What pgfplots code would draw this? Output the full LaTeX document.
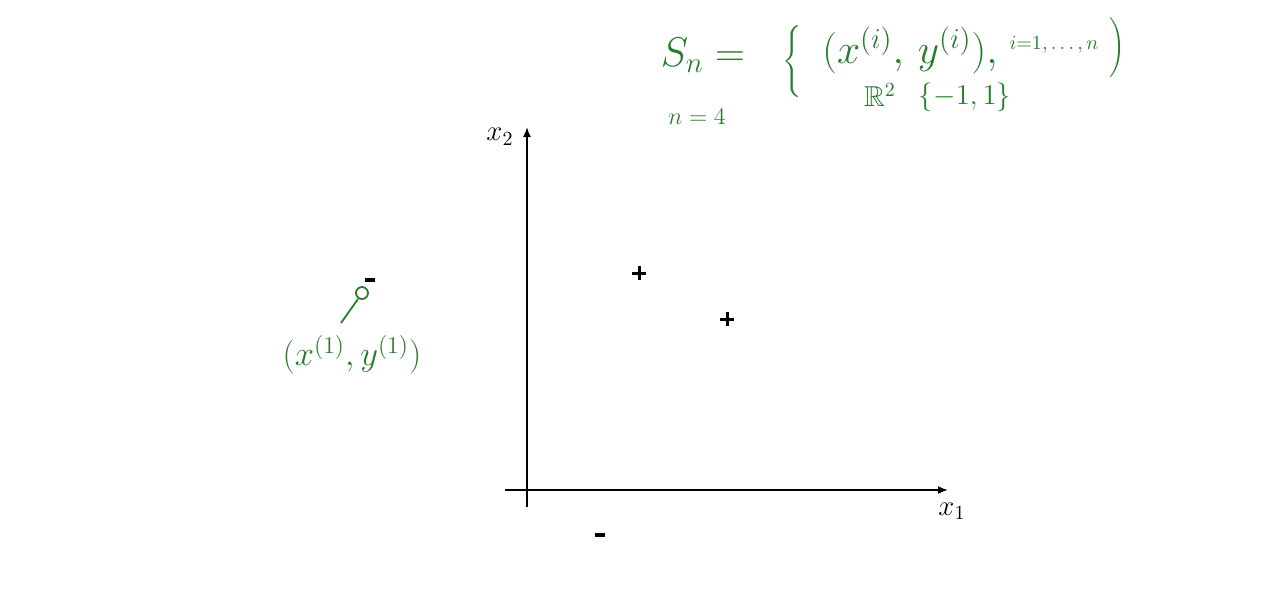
\documentclass[border=0pt]{standalone}
\usepackage{pgfplots}
\pgfplotsset{compat=1.18}
\usepackage{amsmath,amssymb}
\usetikzlibrary{arrows.meta}
\definecolor{pen}{RGB}{40,125,45}
\begin{document}
\begin{tikzpicture}
\useasboundingbox[fill=white] (-252.5pt,-47pt) rectangle (387.5pt,253.5pt);
\begin{axis}[
  scale only axis, width=221.5pt, height=190pt,
  xmin=-22, xmax=421, ymin=-17, ymax=363,
  axis lines=middle,
  axis line style={line width=0.85pt, -{Latex[length=5pt,width=4pt]}},
  xtick=\empty, ytick=\empty,
  xlabel={$x_1$}, ylabel={$x_2$},
  xlabel style={at={(axis description cs:1.009,-0.0105)}, anchor=center, font=\Large},
  ylabel style={at={(axis description cs:-0.0113,0.974)}, anchor=center, font=\Large},
  clip=false,
]
% positive points
\addplot[only marks, mark=+, mark size=3.6pt, line width=1.5pt, black] coordinates {(112,217) (200,171)};
% negative points
\addplot[only marks, mark=-, mark size=2.7pt, line width=1.7pt, black] coordinates {(-157,210) (73,-45)};

% handwritten annotations
\node[text=pen, font=\huge] at (axis cs:176,435) {$S_n =$};
\node[text=pen, font=\large, inner sep=0pt] at (axis cs:265,428) {$\Bigg\{$};
\node[text=pen, font=\huge] at (axis cs:383,440) {$(x^{(i)},\, y^{(i)}),$};
\node[text=pen, font=\normalsize] at (axis cs:527,445) {$i{=}1,\dots,n$};
\node[text=pen, font=\normalsize, inner sep=0pt] at (axis cs:590,442) {$\Bigg)$};
\node[text=pen, font=\Large] at (axis cs:353,395) {$\mathbb{R}^2$};
\node[text=pen, font=\Large] at (axis cs:438,393) {$\{-1,1\}$};
\node[text=pen, font=\large] at (axis cs:170,373) {$n=4$};

\node[text=pen, font=\LARGE] at (axis cs:-175,135) {$(x^{(1)}, y^{(1)})$};
\draw[pen, line width=0.9pt] (axis cs:-165,197) circle[radius=3pt];
\draw[pen, line width=0.9pt] (axis cs:-169,191) -- (axis cs:-186,167);
\end{axis}
\end{tikzpicture}
\end{document}
